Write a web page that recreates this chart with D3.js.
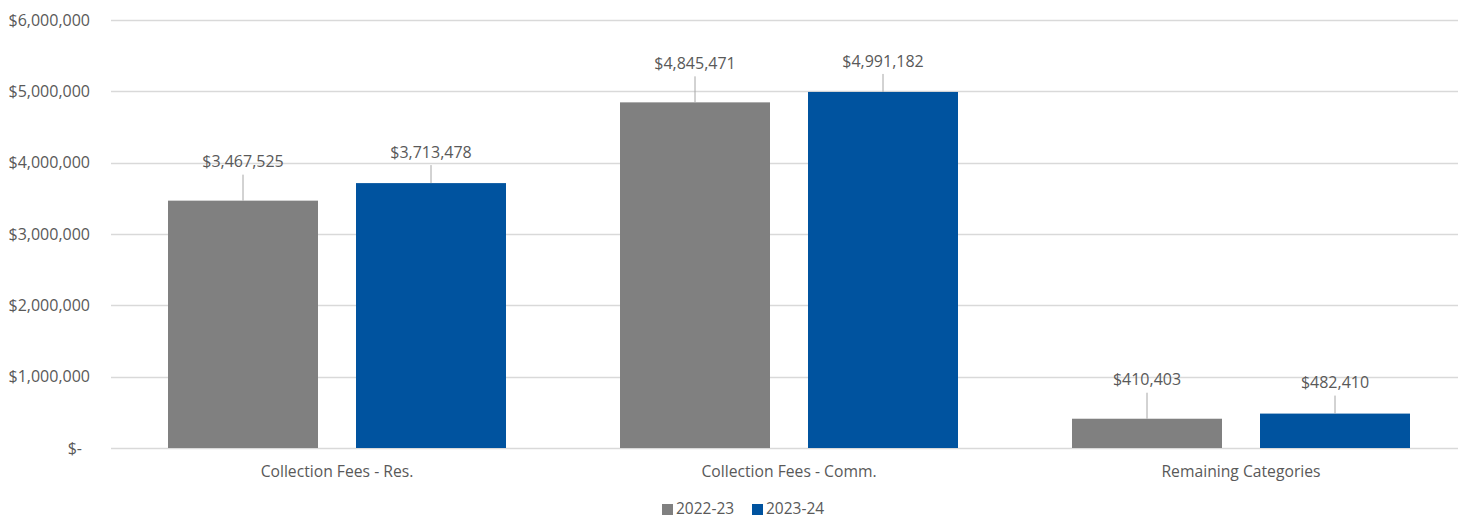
<!DOCTYPE html>
<html>
<head>
<meta charset="utf-8">
<script src="https://cdn.jsdelivr.net/npm/d3@7"></script>
<style>
  body { margin: 0; background: #fff; }
  svg text { font-family: "Open Sans", "Noto Sans", sans-serif; fill: #595959; }
</style>
</head>
<body>
<svg class="chart" width="1458" height="518"></svg>
<script>
// data
let categories = ["Collection Fees - Res.", "Collection Fees - Comm.", "Remaining Categories"];
let seriesNames = ["2022-23", "2023-24"];
let values2022 = [3467525, 4845471, 410403];
let values2023 = [3713478, 4991182, 482410];
let yTicks = [0, 1000000, 2000000, 3000000, 4000000, 5000000, 6000000];

let colors = { "2022-23": "#808080", "2023-24": "#00539f" };
// how far above the bar each data label sits
let labelGap = { "2022-23": 39, "2023-24": 31 };

let margin = { top: 20, right: 0, bottom: 70, left: 111 };
let svg = d3.select(".chart");
let width = 1458, height = 518;

let rows = categories.map(function(c, i) {
  return { cat: c, vals: [
    { s: "2022-23", v: values2022[i] },
    { s: "2023-24", v: values2023[i] }
  ]};
});

let y = d3.scaleLinear()
  .domain([0, 6000000])
  .range([height - margin.bottom, margin.top]);

let x0 = d3.scaleBand()
  .domain(categories)
  .range([margin.left, margin.left + 452 * 3]);

let x1 = d3.scaleBand()
  .domain(seriesNames)
  .range([57, 395])
  .paddingInner(38 / 188);

// gridlines
svg.append("g")
  .selectAll("line")
  .data(yTicks).enter()
  .append("line")
  .attr("x1", margin.left)
  .attr("x2", width)
  .attr("y1", function(d) { return Math.round(y(d)) + 0.5; })
  .attr("y2", function(d) { return Math.round(y(d)) + 0.5; })
  .style("stroke", "#d9d9d9")
  .style("stroke-width", 1.3);

// y labels
let fmt = d3.format(",");
svg.append("g")
  .selectAll("text")
  .data(yTicks).enter()
  .append("text")
  .attr("x", function(d) { return d === 0 ? 82 : 90; })
  .attr("y", function(d) { return y(d); })
  .attr("dy", "0.35em")
  .attr("text-anchor", "end")
  .style("font-size", "16px")
  .text(function(d) { return d === 0 ? "$-" : "$" + fmt(d); });

// bars
let groups = svg.append("g")
  .selectAll("g")
  .data(rows).enter()
  .append("g")
  .attr("transform", function(d) { return translate(x0(d.cat), 0); });

groups.selectAll("rect")
  .data(function(d) { return d.vals; }).enter()
  .append("rect")
  .attr("x", function(d) { return x1(d.s); })
  .attr("width", x1.bandwidth())
  .attr("y", function(d) { return y(d.v); })
  .attr("height", function(d) { return y(0) - y(d.v); })
  .style("fill", function(d) { return colors[d.s]; });

// leader lines
groups.selectAll("line")
  .data(function(d) { return d.vals; }).enter()
  .append("line")
  .attr("x1", function(d) { return x1(d.s) + x1.bandwidth() / 2; })
  .attr("x2", function(d) { return x1(d.s) + x1.bandwidth() / 2; })
  .attr("y1", function(d) { return y(d.v) - labelGap[d.s] + 13; })
  .attr("y2", function(d) { return y(d.v); })
  .style("stroke", "#a6a6a6")
  .style("stroke-width", 1);

// data labels
groups.selectAll("text")
  .data(function(d) { return d.vals; }).enter()
  .append("text")
  .attr("x", function(d) { return x1(d.s) + x1.bandwidth() / 2; })
  .attr("y", function(d) { return y(d.v) - labelGap[d.s]; })
  .attr("dy", "0.35em")
  .attr("text-anchor", "middle")
  .style("font-size", "16px")
  .text(function(d) { return "$" + fmt(d.v); });

// category labels
svg.append("g")
  .selectAll("text")
  .data(categories).enter()
  .append("text")
  .attr("x", function(d) { return x0(d) + x0.bandwidth() / 2; })
  .attr("y", 472)
  .attr("dy", "0.35em")
  .attr("text-anchor", "middle")
  .style("font-size", "15.7px")
  .text(function(d) { return d; });

// legend
let legendX = [662, 752];
let legend = svg.append("g")
  .selectAll("g")
  .data(seriesNames).enter()
  .append("g")
  .attr("transform", function(d, i) { return translate(legendX[i], 509); });
legend.append("rect")
  .attr("x", 0)
  .attr("y", -5)
  .attr("width", 11)
  .attr("height", 11)
  .style("fill", function(d) { return colors[d]; });
legend.append("text")
  .attr("x", 14)
  .attr("y", 0)
  .attr("dy", "0.35em")
  .style("font-size", "15.5px")
  .text(function(d) { return d; });

function translate(x, y) {
  return "translate(" + x + "," + y + ")";
}
</script>
</body>
</html>
